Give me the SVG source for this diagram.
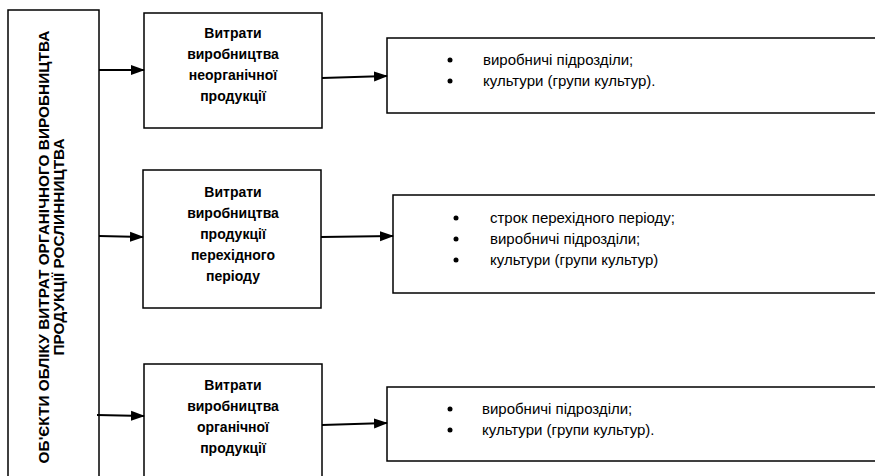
<svg xmlns="http://www.w3.org/2000/svg" width="875" height="476" viewBox="0 0 875 476">
<defs>
<marker id="ah" markerUnits="userSpaceOnUse" markerWidth="14" markerHeight="12" refX="13" refY="5" orient="auto" viewBox="0 0 14 10">
<path d="M0,0 L14,5 L0,10 Z" fill="#000"/>
</marker>
<style>
.box{fill:#fff;stroke:#000;stroke-width:1.5}
.c{fill:none;stroke:#000;stroke-width:2;marker-end:url(#ah)}
.h{font-family:"Liberation Sans",Arial,sans-serif;font-weight:bold;font-size:14px;text-anchor:middle;fill:#000}
.v{font-family:"Liberation Sans",Arial,sans-serif;font-weight:bold;font-size:15.4px;text-anchor:middle;fill:#000}
.t{font-family:"Liberation Sans",Arial,sans-serif;font-size:15px;fill:#000}
</style>
</defs>
<rect width="875" height="476" fill="#fff"/>
<g id="main">
<rect class="box" x="8" y="10" width="91" height="480"/>
<text class="v" transform="translate(49,247) rotate(-90)">ОБ'ЄКТИ ОБЛІКУ ВИТРАТ ОРГАНІЧНОГО ВИРОБНИЦТВА</text>
<text class="v" transform="translate(64,247) rotate(-90)">ПРОДУКЦІЇ РОСЛИННИЦТВА</text>
</g>
<g id="n1">
<rect class="box" x="144" y="13" width="178" height="115"/>
<text class="h" x="233" y="38">Витрати</text>
<text class="h" x="233" y="59">виробництва</text>
<text class="h" x="233" y="80">неорганічної</text>
<text class="h" x="233" y="101">продукції</text>
</g>
<g id="n2">
<rect class="box" x="143" y="170" width="178" height="138"/>
<text class="h" x="233" y="197">Витрати</text>
<text class="h" x="233" y="218">виробництва</text>
<text class="h" x="233" y="239">продукції</text>
<text class="h" x="233" y="260">перехідного</text>
<text class="h" x="233" y="281">періоду</text>
</g>
<g id="n3">
<rect class="box" x="144" y="364" width="178" height="130"/>
<text class="h" x="233" y="390">Витрати</text>
<text class="h" x="233" y="411">виробництва</text>
<text class="h" x="233" y="432">органічної</text>
<text class="h" x="233" y="453">продукції</text>
</g>
<g id="r1">
<rect class="box" x="387" y="38" width="500" height="75"/>
<circle cx="450" cy="60" r="2.5"/>
<circle cx="450" cy="81" r="2.5"/>
<text class="t" x="483" y="65">виробничі підрозділи;</text>
<text class="t" x="483" y="86">культури (групи культур).</text>
</g>
<g id="r2">
<rect class="box" x="393" y="195" width="500" height="98"/>
<circle cx="456" cy="218" r="2.5"/>
<circle cx="456" cy="239" r="2.5"/>
<circle cx="456" cy="260" r="2.5"/>
<text class="t" x="490" y="223">строк перехідного періоду;</text>
<text class="t" x="490" y="244">виробничі підрозділи;</text>
<text class="t" x="490" y="265">культури (групи культур)</text>
</g>
<g id="r3">
<rect class="box" x="387" y="387" width="500" height="74"/>
<circle cx="450" cy="409" r="2.5"/>
<circle cx="450" cy="430" r="2.5"/>
<text class="t" x="482" y="414">виробничі підрозділи;</text>
<text class="t" x="482" y="435">культури (групи культур).</text>
</g>
<g id="connectors">
<path class="c" d="M99,70 L144,70"/>
<path class="c" d="M99,236 L143,237"/>
<path class="c" d="M97,415 L144,416"/>
<path class="c" d="M322,78 L387,76"/>
<path class="c" d="M321,237 L393,236"/>
<path class="c" d="M322,425 L387,423"/>
</g>
</svg>
